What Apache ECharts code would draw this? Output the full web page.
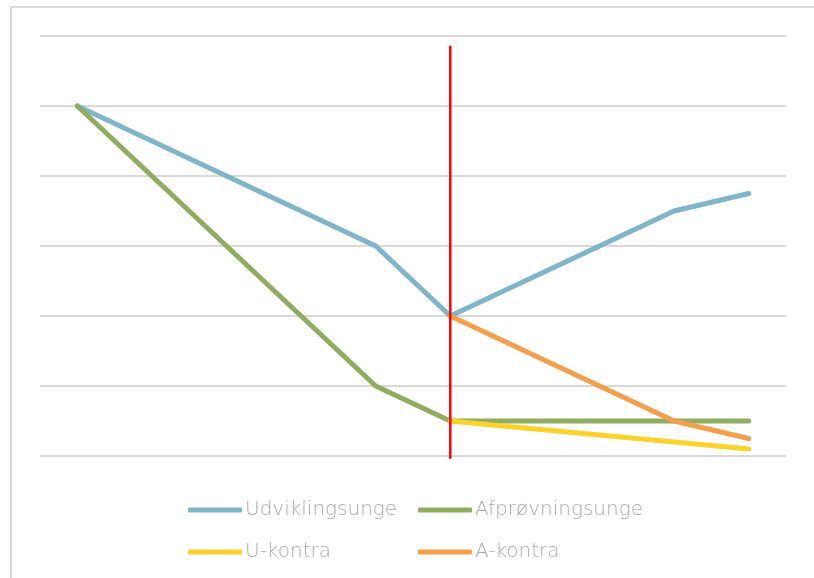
<!DOCTYPE html>
<html>
<head>
<meta charset="utf-8">
<script src="https://cdn.jsdelivr.net/npm/echarts@6/dist/echarts.min.js"></script>
<style>
  html, body { margin: 0; padding: 0; background: #fff; }
  #wrap { position: relative; width: 814px; height: 578px; overflow: hidden; }
  #frame { position: absolute; left: 10px; top: 6px; width: 830px; height: 600px; border: 2px solid #d9d9d9; box-sizing: border-box; }
  #chart { position: absolute; left: 0; top: 0; width: 814px; height: 578px; }
</style>
</head>
<body>
<div id="wrap">
  <div id="frame"></div>
  <div id="chart"></div>
</div>
<script>
  // x-positions 0..9, values only where the original has points
  const categories = ['0', '1', '2', '3', '4', '5', '6', '7', '8', '9'];
  const udvikling = [5, null, null, null, 3, 2, null, null, 3.5, 3.75];
  const afproevning = [5, null, null, null, 1, 0.5, null, null, 0.5, 0.5];
  const uKontra = [null, null, null, null, null, 0.5, null, null, null, 0.1];
  const aKontra = [null, null, null, null, null, 2, null, null, 0.5, 0.25];
  // red divider: [x index, y] top and bottom
  const divider = [[5, 5.86], [5, -0.04]];

  const chart = echarts.init(document.getElementById('chart'));

  const lineSeries = (name, data, color) => ({
    name: name,
    type: 'line',
    data: data,
    connectNulls: true,
    showSymbol: false,
    symbol: 'none',
    lineStyle: { width: 5, color: color, cap: 'round', join: 'round' },
    itemStyle: { color: color },
  });

  const legendText = {
    color: '#acacac',
    fontSize: 20,
    fontFamily: '"DejaVu Sans", sans-serif',
    fontWeight: 200,
    padding: [0, 0, 0, -2],
  };

  chart.setOption({
    animation: false,
    grid: { left: 40, right: 28, top: 36, bottom: 122 },
    xAxis: {
      type: 'category',
      data: categories,
      boundaryGap: true,
      axisLine: { show: false },
      axisTick: { show: false },
      axisLabel: { show: false },
    },
    yAxis: {
      type: 'value',
      min: 0,
      max: 6,
      interval: 1,
      axisLabel: { show: false },
      axisLine: { show: false },
      axisTick: { show: false },
      splitLine: { lineStyle: { color: '#d9d9d9', width: 2 } },
    },
    legend: [
      {
        orient: 'vertical',
        left: 183,
        top: 495,
        itemWidth: 54,
        itemHeight: 5,
        itemGap: 22,
        icon: 'roundRect',
        data: ['Udviklingsunge', 'U-kontra'],
        textStyle: legendText,
      },
      {
        orient: 'vertical',
        left: 413,
        top: 495,
        itemWidth: 54,
        itemHeight: 5,
        itemGap: 22,
        icon: 'roundRect',
        data: ['Afprøvningsunge', 'A-kontra'],
        textStyle: legendText,
      },
    ],
    series: [
      lineSeries('Udviklingsunge', udvikling, '#80b5c9'),
      lineSeries('Afprøvningsunge', afproevning, '#8fac5f'),
      lineSeries('U-kontra', uKontra, '#fdd22a'),
      lineSeries('A-kontra', aKontra, '#f39f4b'),
      {
        name: 'divider',
        type: 'line',
        data: divider,
        symbol: 'none',
        silent: true,
        clip: false,
        z: 10,
        lineStyle: { width: 2.5, color: '#ff0000', cap: 'butt' },
      },
    ],
  });
</script>
</body>
</html>
